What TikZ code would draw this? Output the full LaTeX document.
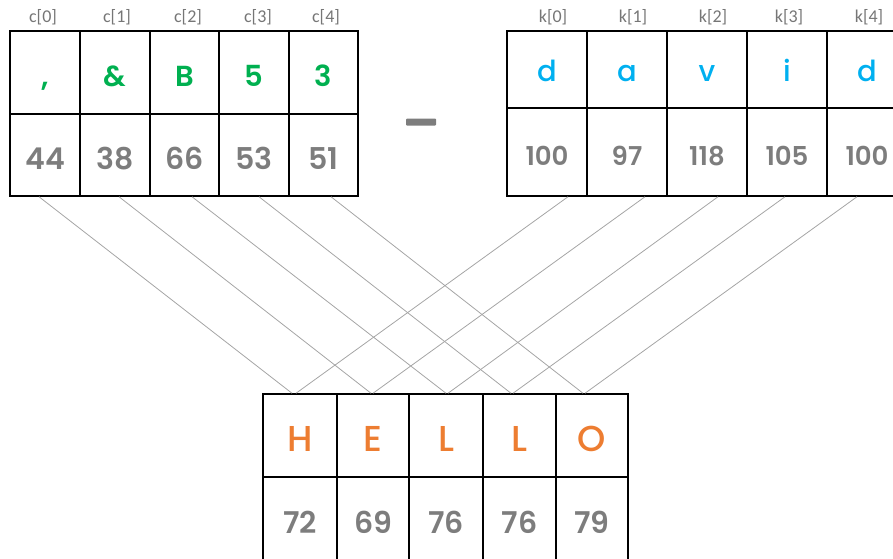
\documentclass[tikz,border=0pt]{standalone}
\usepackage{fontspec}
\setmainfont{Poppins}[UprightFont=* Medium, BoldFont=* SemiBold]
\newfontfamily\idxfont{Carlito}
\definecolor{cgreen}{RGB}{0,176,80}
\definecolor{cblue}{RGB}{0,176,240}
\definecolor{corange}{RGB}{237,125,49}
\definecolor{cnum}{RGB}{125,125,125}
\definecolor{cidx}{RGB}{118,118,118}
\definecolor{cline}{RGB}{165,165,165}
\begin{document}
\begin{tikzpicture}[x=1pt,y=-1pt,
  cell/.style={draw=black, line width=1.5pt, inner sep=0pt, text depth=0pt},
  idx/.style={inner sep=0pt, text=cidx, font=\idxfont\fontsize{18}{20}\selectfont},
  conn/.style={draw=cline, line width=0.8pt}]
\useasboundingbox (0,0) rectangle (893,558);

% cipher text c[], top left
\foreach \i/\xl/\xr/\ch/\num/\lx in {0/10/80/{,}/44/43, 1/80/150/\&/38/117, 2/150/219/B/66/188, 3/219/289/5/53/258, 4/289/358/3/51/326}{
  \node[cell, minimum width={(\xr-\xl)*1pt}, minimum height=83pt, text=cgreen, text height=28pt,
        font=\fontsize{29}{32}\selectfont\bfseries] (ct\i) at ({(\xl+\xr)/2},72.5) {\ch};
  \node[cell, minimum width={(\xr-\xl)*1pt}, minimum height=82pt, text=cnum, text height=29pt,
        font=\fontsize{30}{34}\selectfont\bfseries] (cn\i) at ({(\xl+\xr)/2},155) {\num};
  \node[idx] (cl\i) at (\lx,17) {c[\i]};
}

% key k[], top right
\foreach \i/\xl/\xr/\ch/\num/\lx in {0/507/587/d/100/553, 1/587/667/a/97/633, 2/667/747/v/118/713, 3/747/827/i/105/789, 4/827/907/d/100/869}{
  \node[cell, minimum width={(\xr-\xl)*1pt}, minimum height=77pt, text=cblue, text height=23pt,
        font=\fontsize{29}{32}\selectfont] (kt\i) at ({(\xl+\xr)/2},69.5) {\ch};
  \node[cell, minimum width={(\xr-\xl)*1pt}, minimum height=88pt, text=cnum, text height=26pt,
        font=\fontsize{26}{30}\selectfont\bfseries] (kn\i) at ({(\xl+\xr)/2},152) {\num};
  \node[idx] (kl\i) at (\lx,17) {k[\i]};
}

% minus sign between the two arrays
\node[fill=cnum, rounded corners=1pt, minimum width=30pt, minimum height=7pt, inner sep=0pt] (minus) at (421,122) {};

% plain text, bottom
\foreach \i/\xl/\xr/\ch/\num in {0/263/337/H/72, 1/337/409/E/69, 2/409/483/L/76, 3/483/556/L/76, 4/556/628/O/79}{
  \node[cell, minimum width={(\xr-\xl)*1pt}, minimum height=83pt, text=corange, text height=31pt,
        font=\fontsize{36}{40}\selectfont] (pt\i) at ({(\xl+\xr)/2},435.5) {\ch};
  \node[cell, minimum width={(\xr-\xl)*1pt}, minimum height=86pt, text=cnum, text height=27pt,
        font=\fontsize{30}{34}\selectfont\bfseries] (pn\i) at ({(\xl+\xr)/2},520) {\num};
}

% connectors: c[i] and k[i] meet at plain text cell i
\foreach \i/\ds/\de in {0/-6/-8, 1/4/-2, 2/7.5/0, 3/5/-8.5, 4/7.5/-9}{
  \draw[conn] ([xshift=\ds pt]cn\i.south) -- ([xshift=\de pt]pt\i.north);
}
\foreach \i/\ds/\de in {0/21/-4, 1/18/0, 2/11/2, 3/-2/-6.5, 4/-10/-7}{
  \draw[conn] ([xshift=\ds pt]kn\i.south) -- ([xshift=\de pt]pt\i.north);
}
\end{tikzpicture}
\end{document}
